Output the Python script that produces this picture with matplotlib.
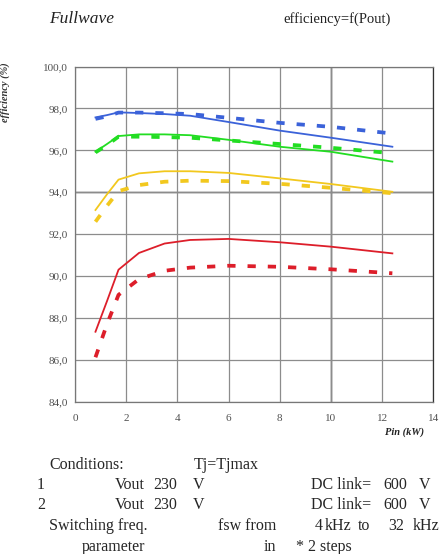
import numpy as np
import matplotlib
matplotlib.use('Agg')
from matplotlib import pyplot as plt
from matplotlib.ticker import FuncFormatter

plt.rcParams['font.family'] = ['Liberation Serif', 'DejaVu Serif']

# output power points (kW)
pin = [0.8, 1.25, 1.7, 2.5, 3.5, 4.5, 6.0, 8.0, 10.0, 12.4]

# efficiency (%), solid = 1, dashed = 2
blue_1 = [97.57, 97.68, 97.81, 97.78, 97.73, 97.65, 97.35, 96.94, 96.60, 96.17]
blue_2 = [97.50, 97.62, 97.80, 97.80, 97.77, 97.73, 97.55, 97.31, 97.12, 96.80]
green_1 = [95.93, 96.30, 96.68, 96.76, 96.76, 96.72, 96.50, 96.17, 95.93, 95.46]
green_2 = [95.90, 96.25, 96.65, 96.65, 96.63, 96.60, 96.47, 96.30, 96.12, 95.86]
yellow_1 = [93.15, 93.90, 94.60, 94.90, 95.00, 95.00, 94.92, 94.66, 94.39, 94.02]
yellow_2 = [92.59, 93.35, 94.05, 94.34, 94.50, 94.55, 94.53, 94.40, 94.21, 93.95]
red_1 = [87.34, 88.80, 90.30, 91.10, 91.55, 91.72, 91.77, 91.61, 91.40, 91.08]
red_2 = [86.12, 87.70, 89.10, 89.85, 90.25, 90.40, 90.49, 90.44, 90.32, 90.13]

cols = {'blue': '#3b62d9', 'green': '#22dd22', 'yellow': '#f2c81e', 'red': '#dd1e2a'}

W, H = 441, 554
fig = plt.figure(figsize=(W / 100, H / 100), dpi=100)
ax = fig.add_axes([75 / W, 1 - 401.7 / H, (433.3 - 75) / W, (401.7 - 66.5) / H])

for c, s1, s2 in [('blue', blue_1, blue_2), ('green', green_1, green_2),
                  ('yellow', yellow_1, yellow_2), ('red', red_1, red_2)]:
    ax.plot(pin, s1, color=cols[c], lw=1.3, zorder=3)
    ax.plot(pin, s2, color=cols[c], lw=2.7, dashes=(2.2, 3.2), zorder=3)

ax.set_xlim(0, 14)
ax.set_ylim(84, 100)
ax.set_xticks(np.arange(0, 15, 2))
ax.set_yticks(np.arange(84, 101, 2))
ax.yaxis.set_major_formatter(FuncFormatter(lambda v, p: ('%.1f' % v).replace('.', ',')))
ax.grid(color='#8c8c8c', lw=0.9, zorder=0)
ax.axvline(10, color='#222222', lw=1.0, zorder=1)
ax.axhline(94, color='#333333', lw=1.0, zorder=1)
for sp in ax.spines.values():
    sp.set_color('#777777')
    sp.set_linewidth(0.9)
ax.spines['right'].set_color('#333333')
ax.tick_params(length=0, labelsize=8, labelcolor='#505050')
ax.tick_params(axis='x', pad=9)
ax.tick_params(axis='y', pad=5)

# titles and labels
fig.text(49 / W, 1 - 19 / H, 'Fullwave', fontsize=12.5, style='italic', color='#222222',
         ha='left', va='center')
fig.text(283 / W, 1 - 19 / H, 'efficiency=f(Pout)', fontsize=10.5, color='#222222',
         ha='left', va='center')
fig.text(5 / W, 1 - 92 / H, 'efficiency (%)', fontsize=7.5, style='italic', weight='bold',
         rotation=90, color='#333333', ha='center', va='center')
fig.text(424 / W, 1 - 432 / H, 'Pin (kW)', fontsize=7.5, style='italic', weight='bold',
         color='#222222', ha='right', va='center')

# conditions table
fs = 11.5
tc = '#262626'
rows = [465, 485, 505, 526, 547]
def t(x, y, s, ha='left'):
    fig.text(x / W, 1 - y / H, s, fontsize=fs, color=tc, ha=ha, va='center')

t(49, rows[0], 'Conditions:')
t(194, rows[0], 'Tj=Tjmax')
for i, lab in enumerate(['1', '2']):
    y = rows[1 + i]
    t(37, y, lab)
    t(145, y, 'Vout', ha='right')
    t(153, y, '230')
    t(193, y, 'V')
    t(371, y, 'DC link=', ha='right')
    t(383, y, '600')
    t(419, y, 'V')
t(49, rows[3], 'Switching freq.')
t(276, rows[3], 'fsw from', ha='right')
t(315, rows[3], '4')
t(325, rows[3], 'kHz')
t(358, rows[3], 'to')
t(388, rows[3], '32')
t(413, rows[3], 'kHz')
t(145, rows[4], 'parameter', ha='right')
t(276, rows[4], 'in', ha='right')
t(296, rows[4], '* 2 steps')

fig.savefig('out.png', dpi=100)
